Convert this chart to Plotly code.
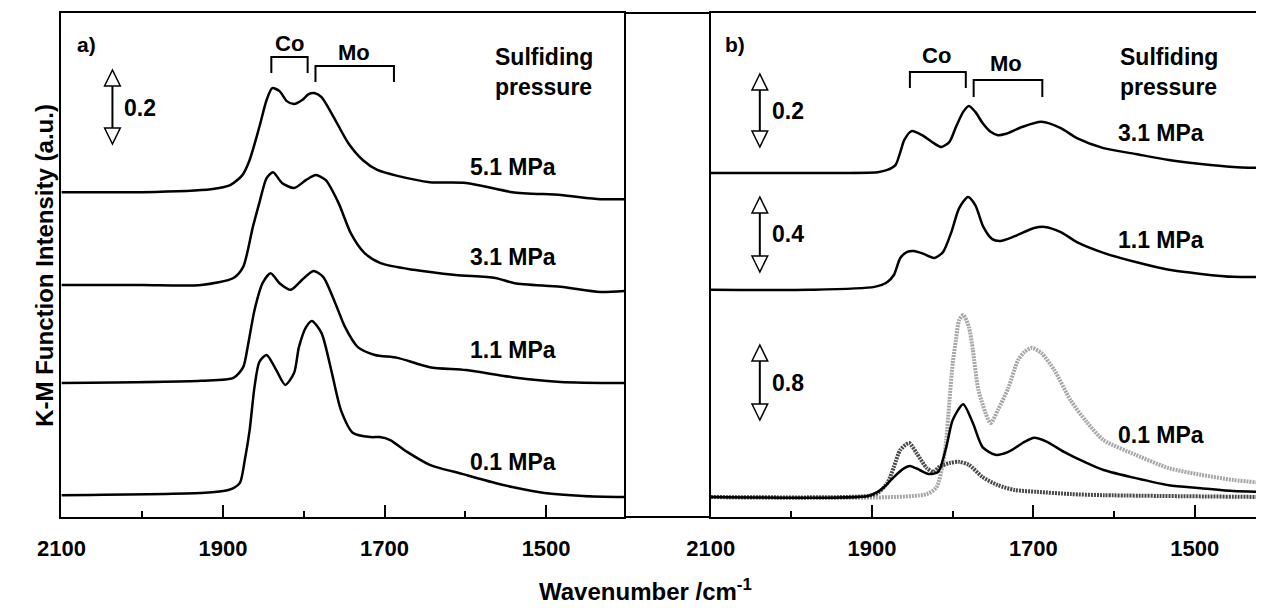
import plotly.graph_objects as go

## Data (wavenumber in cm-1, K-M intensity incl. stacking offset)

# a) spectra after sulfiding at different pressures
a_wn_51 = [2100, 2000, 1915, 1891, 1876, 1867, 1855, 1846, 1839, 1830, 1821, 1812, 1802, 1794, 1787, 1778, 1763, 1745, 1727, 1709, 1684, 1644, 1599, 1542, 1482, 1433, 1403]
a_km_51 = [0.878, 0.878, 0.886, 0.897, 0.924, 0.965, 1.054, 1.127, 1.159, 1.151, 1.124, 1.116, 1.127, 1.143, 1.146, 1.135, 1.081, 1.011, 0.965, 0.938, 0.922, 0.905, 0.903, 0.878, 0.870, 0.859, 0.859]

a_wn_31 = [2100, 2000, 1927, 1887, 1875, 1863, 1855, 1846, 1838, 1827, 1812, 1797, 1785, 1773, 1757, 1742, 1725, 1705, 1664, 1612, 1563, 1539, 1482, 1433, 1403]
a_km_31 = [0.627, 0.627, 0.627, 0.646, 0.676, 0.784, 0.849, 0.916, 0.932, 0.903, 0.889, 0.911, 0.924, 0.911, 0.849, 0.768, 0.714, 0.686, 0.668, 0.654, 0.646, 0.632, 0.622, 0.608, 0.611]

a_wn_11 = [2100, 1927, 1887, 1875, 1869, 1861, 1851, 1841, 1830, 1816, 1802, 1788, 1776, 1761, 1749, 1733, 1712, 1684, 1644, 1599, 1542, 1482, 1403]
a_km_11 = [0.362, 0.368, 0.376, 0.405, 0.465, 0.559, 0.632, 0.659, 0.632, 0.614, 0.641, 0.665, 0.649, 0.578, 0.514, 0.459, 0.438, 0.430, 0.405, 0.397, 0.378, 0.365, 0.362]

a_wn_01 = [2100, 1927, 1900, 1887, 1879, 1873, 1867, 1861, 1855, 1846, 1834, 1823, 1812, 1806, 1797, 1790, 1778, 1766, 1754, 1739, 1717, 1706, 1693, 1672, 1644, 1603, 1563, 1542, 1502, 1454, 1403]
a_km_01 = [0.059, 0.065, 0.070, 0.078, 0.092, 0.154, 0.235, 0.351, 0.419, 0.438, 0.397, 0.357, 0.389, 0.459, 0.514, 0.530, 0.497, 0.397, 0.289, 0.227, 0.216, 0.216, 0.208, 0.176, 0.141, 0.116, 0.092, 0.081, 0.065, 0.057, 0.054]

# b) second catalyst
b_wn_31 = [2100, 1978, 1893, 1881, 1871, 1865, 1860, 1851, 1838, 1824, 1814, 1804, 1796, 1787, 1780, 1772, 1763, 1753, 1744, 1735, 1714, 1690, 1666, 1646, 1613, 1573, 1532, 1492, 1452, 1414]
b_km_31 = [0.930, 0.930, 0.932, 0.938, 0.951, 0.986, 1.019, 1.043, 1.032, 1.011, 1.000, 1.014, 1.054, 1.095, 1.111, 1.095, 1.065, 1.041, 1.032, 1.035, 1.054, 1.068, 1.051, 1.024, 0.997, 0.981, 0.965, 0.954, 0.946, 0.943]

b_wn_11 = [2100, 1978, 1897, 1881, 1873, 1865, 1857, 1848, 1836, 1823, 1812, 1802, 1792, 1781, 1772, 1762, 1751, 1741, 1723, 1699, 1686, 1666, 1646, 1613, 1573, 1532, 1492, 1452, 1414]
b_km_11 = [0.614, 0.614, 0.622, 0.635, 0.654, 0.700, 0.716, 0.719, 0.711, 0.700, 0.716, 0.768, 0.835, 0.865, 0.843, 0.784, 0.751, 0.746, 0.759, 0.781, 0.784, 0.770, 0.743, 0.714, 0.689, 0.668, 0.657, 0.649, 0.649]

b_wn_01 = [2100, 1905, 1893, 1885, 1873, 1860, 1853, 1841, 1829, 1818, 1808, 1800, 1787, 1775, 1763, 1747, 1731, 1711, 1699, 1683, 1662, 1634, 1613, 1573, 1532, 1492, 1452, 1414]
b_km_01 = [0.054, 0.057, 0.068, 0.081, 0.108, 0.132, 0.138, 0.127, 0.116, 0.122, 0.189, 0.262, 0.305, 0.254, 0.189, 0.168, 0.176, 0.203, 0.214, 0.203, 0.176, 0.146, 0.127, 0.105, 0.086, 0.078, 0.070, 0.068]

# b) 0.1 MPa comparison curves (light and dark stippled)
b_wn_light = [2100, 1832, 1820, 1812, 1808, 1804, 1800, 1796, 1792, 1787, 1780, 1775, 1768, 1753, 1744, 1731, 1719, 1711, 1702, 1690, 1674, 1654, 1634, 1613, 1573, 1532, 1492, 1452, 1414]
b_km_light = [0.054, 0.062, 0.081, 0.146, 0.208, 0.316, 0.416, 0.478, 0.532, 0.546, 0.514, 0.451, 0.343, 0.254, 0.289, 0.349, 0.424, 0.446, 0.457, 0.443, 0.397, 0.316, 0.257, 0.208, 0.168, 0.132, 0.114, 0.100, 0.092]

b_wn_dark = [2100, 1905, 1893, 1881, 1873, 1865, 1854, 1845, 1832, 1824, 1817, 1804, 1792, 1780, 1763, 1744, 1723, 1695, 1654, 1613, 1414]
b_km_dark = [0.054, 0.057, 0.065, 0.092, 0.135, 0.181, 0.200, 0.173, 0.132, 0.122, 0.135, 0.146, 0.149, 0.141, 0.108, 0.086, 0.073, 0.068, 0.062, 0.059, 0.054]

a_labels = ["5.1 MPa", "3.1 MPa", "1.1 MPa", "0.1 MPa"]
b_labels = ["3.1 MPa", "1.1 MPa", "0.1 MPa"]
b_scales = ["0.2", "0.4", "0.8"]

## Figure

# the page body adds an 8 px margin, so the figure is 8 px smaller and
# positions below are given in window pixels, shifted by that margin
FW, FH, OFF = 1256, 600, 8
FONT = "Liberation Sans, Arial, sans-serif"

def px(x):
    return (x - OFF) / FW

def py(y):
    return 1 - (y - OFF) / FH

fig = go.Figure()

def add_line(x, y, axis, color="black", width=2.5, dash=None):
    fig.add_scatter(x=x, y=y, mode="lines", xaxis="x" + axis, yaxis="y" + axis,
                    line=dict(color=color, width=width, dash=dash, shape="spline", smoothing=0.7),
                    showlegend=False, hoverinfo="skip")

for wn, km in [(a_wn_51, a_km_51), (a_wn_31, a_km_31), (a_wn_11, a_km_11), (a_wn_01, a_km_01)]:
    add_line(wn, km, "")

add_line(b_wn_light, b_km_light, "2", color="#a6a6a6", width=4, dash="2px,1px")
add_line(b_wn_dark, b_km_dark, "2", color="#4a4a4a", width=4, dash="2px,1px")
for wn, km in [(b_wn_31, b_km_31), (b_wn_11, b_km_11), (b_wn_01, b_km_01)]:
    add_line(wn, km, "2")

y_top = 504 / 370  # 0.2 a.u. spans 74 px

xaxis_style = dict(showline=True, linecolor="black", linewidth=2, mirror=True,
                   ticks="inside", ticklen=12, tickwidth=2, tickcolor="black",
                   tick0=1500, dtick=200,
                   minor=dict(ticks="inside", ticklen=6, tickwidth=2, tickcolor="black", dtick=100, tick0=1500),
                   tickfont=dict(family=FONT, size=22, color="black", weight="bold"),
                   ticklabelstandoff=11, showgrid=False, zeroline=False)
yaxis_style = dict(showline=True, linecolor="black", linewidth=2, ticks="", showticklabels=False,
                   showgrid=False, zeroline=False, range=[0, y_top],
                   domain=[py(517), py(13)])

fig.update_layout(
    width=FW, height=FH,
    margin=dict(l=0, r=0, t=0, b=0),
    paper_bgcolor="white", plot_bgcolor="white",
    xaxis=dict(xaxis_style, domain=[px(38), px(612)], range=[2100, 1403], anchor="y"),
    yaxis=dict(yaxis_style, mirror=True, anchor="x"),
    xaxis2=dict(xaxis_style, domain=[px(700), 1], range=[2100, 1414], anchor="y2"),
    yaxis2=dict(yaxis_style, mirror=False, anchor="x2"),
)

# frame pieces bridging the gap between the panels
for yy in (13, 517):
    fig.add_shape(type="line", xref="paper", yref="paper", x0=px(612), x1=px(700), y0=py(yy), y1=py(yy),
                  line=dict(color="black", width=2))

def text(s, x, y, size=23, anchor="left", angle=0):
    fig.add_annotation(text="<b>" + s + "</b>", x=px(x), y=py(y), xref="paper", yref="paper",
                       xanchor=anchor, yanchor="middle", showarrow=False, textangle=angle,
                       font=dict(family=FONT, size=size, color="black"))

def bracket(x0, x1, yh, yl):
    fig.add_shape(type="path", xref="paper", yref="paper",
                  path=f"M {px(x0)},{py(yl)} L {px(x0)},{py(yh)} L {px(x1)},{py(yh)} L {px(x1)},{py(yl)}",
                  line=dict(color="black", width=2))

def scale_arrow(x, ytop, ybot):
    h, w = 16, 8
    fig.add_shape(type="line", xref="paper", yref="paper", x0=px(x), x1=px(x), y0=py(ytop + h), y1=py(ybot - h),
                  line=dict(color="black", width=2))
    for tip, base in [(ytop, ytop + h), (ybot, ybot - h)]:
        fig.add_shape(type="path", xref="paper", yref="paper", fillcolor="white",
                      path=f"M {px(x)},{py(tip)} L {px(x - w)},{py(base)} L {px(x + w)},{py(base)} Z",
                      line=dict(color="black", width=1.5))

# panel a)
text("a)", 52, 44, size=21)
text("Co", 271, 43, size=22, anchor="center")
text("Mo", 336, 52, size=22, anchor="center")
bracket(252, 289, 57, 73)
bracket(297, 377, 66, 82)
text("Sulfiding", 478, 57)
text("pressure", 478, 87)
scale_arrow(90, 70, 144)
text("0.2", 100, 108)
for lab, yy in zip(a_labels, [167, 257, 350, 462]):
    text(lab, 453, yy)

# panel b)
text("b)", 712, 44, size=21)
text("Co", 930, 55, size=22, anchor="center")
text("Mo", 1001, 63, size=22, anchor="center")
bracket(903, 960, 72, 88)
bracket(968, 1038, 80, 97)
text("Sulfiding", 1115, 57)
text("pressure", 1115, 87)
for (yt, yb), lab in zip([(74, 147), (197, 272), (345, 420)], b_scales):
    scale_arrow(750, yt, yb)
    text(lab, 760, (yt + yb) / 2)
for lab, yy in zip(b_labels, [133, 240, 435]):
    text(lab, 1113, yy)

# axis titles
text("K-M Function Intensity (a.u.)", 20, 265, size=24, anchor="center", angle=-90)
text("Wavenumber /cm<sup>-1</sup>", 633, 590, size=24, anchor="center")

fig.write_html("out.html")
